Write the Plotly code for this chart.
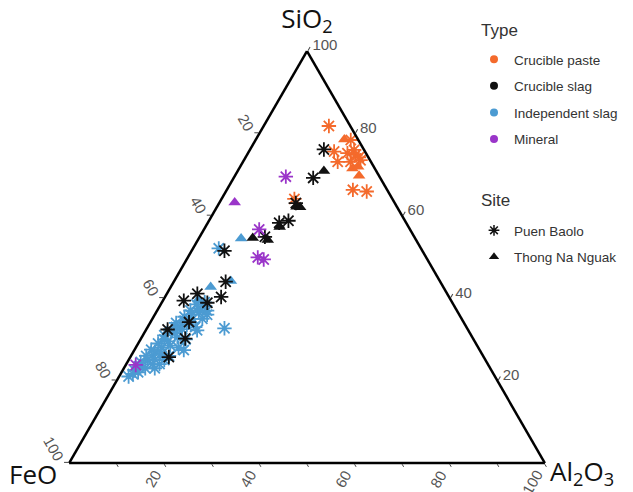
import plotly.graph_objects as go

# ---------------- data (wt%) ----------------
types = ["Crucible paste", "Crucible slag", "Independent slag", "Mineral"]
type_colors = ["#F46A2C", "#111111", "#4C9BD2", "#9A35C9"]
sites = ["Puen Baolo", "Thong Na Nguak"]
site_symbols = ["asterisk-open", "triangle-up"]

paste_sio2 = [81.8, 78.5, 78.4, 75.6, 75.2, 76.0, 74.8, 74.2, 73.1, 73.1, 73.5, 71.5, 71.9, 69.7, 66.3, 65.9, 64.1]
paste_feo = [4.5, 2.9, 1.6, 6.5, 3.9, 2.1, 2.4, 2.0, 7.0, 4.3, 2.0, 4.7, 3.3, 4.2, 7.2, 4.5, 20.6]
paste_al2o3 = [13.7, 18.6, 20.0, 17.9, 20.9, 21.9, 22.8, 23.8, 19.9, 22.6, 24.5, 23.8, 24.8, 26.1, 26.5, 29.6, 15.3]
paste_site = ["P", "T", "P", "P", "P", "P", "P", "P", "P", "P", "P", "T", "T", "T", "P", "P", "P"]

slag_sio2 = [76.1, 69.2, 70.9, 63.1, 62.2, 62.1, 58.3, 58.8, 57.3, 54.6, 54.9, 54.1, 51.5, 44.0, 41.1, 40.3, 39.4, 38.9, 32.4, 30.2, 25.7, 34.2]
slag_feo = [8.4, 14.1, 11.0, 20.8, 21.1, 20.4, 26.7, 24.5, 27.1, 34.1, 31.4, 31.2, 41.6, 45.1, 52.5, 47.9, 56.2, 51.5, 63.1, 60.5, 66.2, 57.7]
slag_al2o3 = [15.5, 16.7, 18.1, 16.1, 16.7, 17.5, 15.0, 16.7, 15.6, 11.3, 13.7, 14.7, 6.9, 10.9, 6.4, 11.8, 4.4, 9.6, 4.5, 9.3, 8.1, 8.1]
slag_site = ["P", "P", "T", "P", "T", "T", "P", "P", "T", "T", "P", "T", "P", "P", "P", "P", "P", "P", "P", "P", "P", "P"]

indep_sio2 = [54.5, 44.2, 42.7, 39.7,
              52.1, 32.7, 27.4, 32.2, 21.6,
              21.0, 22.0, 22.5, 23.0, 23.5, 24.0, 24.5, 25.0, 25.5, 26.0, 26.5, 27.0, 27.5, 28.0, 28.5,
              29.0, 29.5, 30.0, 30.5, 31.0, 31.5, 32.0, 32.5, 33.0, 33.5, 34.0, 34.5, 35.0, 35.5, 36.0,
              36.5, 37.0, 37.5, 38.0, 38.5, 39.0, 26.0, 24.0, 28.0, 30.0, 23.0, 25.0, 33.0, 35.0, 37.0, 36.0]
indep_feo = [36.6, 43.9, 48.9, 53.0,
             42.5, 51.0, 62.2, 57.0, 75.8,
             77.0, 74.5, 75.0, 72.5, 73.5, 70.5, 72.7, 71.0, 69.5, 70.8, 67.5, 68.5, 69.0, 66.5, 64.5,
             66.8, 64.5, 65.0, 62.0, 64.5, 62.0, 62.5, 60.0, 61.0, 58.5, 60.5, 58.5, 56.5, 58.0, 56.5,
             54.5, 56.0, 54.0, 52.5, 54.0, 52.0, 66.0, 69.0, 63.0, 60.5, 70.5, 67.5, 57.0, 54.5, 52.5, 53.0]
indep_al2o3 = [8.9, 11.9, 8.4, 7.3,
               5.4, 16.3, 10.4, 10.8, 2.6,
               2.0, 3.5, 2.5, 4.5, 3.0, 5.5, 2.8, 4.0, 5.0, 3.2, 6.0, 4.5, 3.5, 5.5, 7.0,
               4.2, 6.0, 5.0, 7.5, 4.5, 6.5, 5.5, 7.5, 6.0, 8.0, 5.5, 7.0, 8.5, 6.5, 7.5,
               9.0, 7.0, 8.5, 9.5, 7.5, 9.0, 8.0, 7.0, 9.0, 9.5, 6.5, 7.5, 10.0, 10.5, 10.5, 11.0]
indep_site = ["T", "T", "T", "T"] + ["P"] * 51

mineral_sio2 = [69.5, 63.2, 56.7, 49.9, 49.4, 23.8]
mineral_feo = [19.7, 33.6, 31.7, 35.4, 34.4, 74.1]
mineral_al2o3 = [10.8, 3.2, 11.6, 14.7, 16.2, 2.1]
mineral_site = ["P", "T", "P", "P", "P", "P"]

tick_vals = [0, 20, 40, 60, 80]
tick_text = ["100", "80", "60", "40", "20"]
al2o3_tick_vals = [20, 40, 60, 80, 100]
al2o3_tick_text = ["20", "40", "60", "80", "100"]

# ---------------- figure ----------------
fig = go.Figure()

groups = {
    "Independent slag": (indep_sio2, indep_feo, indep_al2o3, indep_site),
    "Crucible paste": (paste_sio2, paste_feo, paste_al2o3, paste_site),
    "Crucible slag": (slag_sio2, slag_feo, slag_al2o3, slag_site),
    "Mineral": (mineral_sio2, mineral_feo, mineral_al2o3, mineral_site),
}

for tname, (sa, fe, al, st) in groups.items():
    col = type_colors[types.index(tname)]
    for code, sym in (("P", "asterisk-open"), ("T", "triangle-up")):
        idx = [i for i, s in enumerate(st) if s == code]
        if not idx:
            continue
        if sym == "asterisk-open":
            marker = dict(symbol=sym, size=12, color=col, line=dict(color=col, width=1.8))
        else:
            marker = dict(symbol=sym, size=11, color=col, line=dict(width=0))
        fig.add_trace(go.Scatterternary(
            a=[sa[i] for i in idx], b=[fe[i] for i in idx], c=[al[i] for i in idx],
            mode="markers", marker=marker, showlegend=False, name=f"{tname} / {code}",
        ))

# legend-only entries
for i, (tname, col) in enumerate(zip(types, type_colors)):
    fig.add_trace(go.Scatterternary(
        a=[None], b=[None], c=[None], mode="markers", name=tname,
        marker=dict(symbol="circle", size=8, color=col),
        legend="legend", legendgroup=f"type{i}", showlegend=True,
    ))
for i, (sname, sym) in enumerate(zip(sites, site_symbols)):
    if sym == "asterisk-open":
        mk = dict(symbol=sym, size=9, color="#111", line=dict(color="#111", width=1.5))
    else:
        mk = dict(symbol=sym, size=9, color="#111")
    fig.add_trace(go.Scatterternary(
        a=[None], b=[None], c=[None], mode="markers", name=sname,
        marker=mk, legend="legend2", legendgroup=f"site{i}", showlegend=True,
    ))

tick_font = dict(family="Liberation Sans, Arial", size=15, color="#555")
axis_common = dict(
    tickmode="array", tickvals=tick_vals, ticktext=tick_text,
    ticks="outside", ticklen=4, tickcolor="#444", tickwidth=1,
    tickfont=tick_font,
    showline=True, linecolor="black", linewidth=2.5,
    showgrid=False, min=0,
)
title_font = dict(family="Open Sans", size=26, color="#111")
legend_font = dict(family="Liberation Sans, Arial", size=13.5, color="#333")
head_font = dict(family="Liberation Sans, Arial", size=17, color="#333")

# bottom (Al2O3) edge: ticks every 10, labels drawn as rotated annotations
baxis_opts = dict(
    tickmode="array", tickvals=list(range(0, 100, 10)), ticks="outside", ticklen=3,
    tickcolor="#444", tickwidth=1, showticklabels=False,
    showline=True, linecolor="black", linewidth=2.5, showgrid=False, min=0,
)

dom_x = [69 / 633, 545 / 633]
dom_y = [29 / 492, 441 / 492]

annotations = [
    dict(text="FeO", x=33 / 633, y=1 - 474 / 492, xref="paper", yref="paper",
         showarrow=False, font=title_font, xanchor="center", yanchor="middle"),
    dict(text="Al<sub>2</sub>O<sub>3</sub>", x=582 / 633, y=1 - 472 / 492, xref="paper", yref="paper",
         showarrow=False, font=title_font, xanchor="center", yanchor="middle"),
    dict(text="Type", x=479 / 633, y=1 - 30 / 492, xref="paper", yref="paper",
         showarrow=False, font=head_font, xanchor="left", yanchor="middle"),
    dict(text="Site", x=479 / 633, y=1 - 200 / 492, xref="paper", yref="paper",
         showarrow=False, font=head_font, xanchor="left", yanchor="middle"),
]
for v, t in zip(al2o3_tick_vals, al2o3_tick_text):
    annotations.append(dict(
        text=t, x=dom_x[0] + (dom_x[1] - dom_x[0]) * v / 100 + 2 / 633, y=dom_y[0] - 3 / 492,
        xref="paper", yref="paper", showarrow=False, textangle=-60,
        xanchor="right", yanchor="top", borderpad=0, font=tick_font,
    ))

fig.update_layout(
    width=633, height=492,
    margin=dict(l=0, r=0, t=0, b=0, autoexpand=False),
    paper_bgcolor="white",
    ternary=dict(
        sum=100,
        bgcolor="white",
        domain=dict(x=dom_x, y=dom_y),
        aaxis=dict(title=dict(text="SiO<sub>2</sub>", font=title_font), tickangle=60, **axis_common),
        baxis=dict(title=dict(text=""), **baxis_opts),
        caxis=dict(title=dict(text=""), tickangle=0, **axis_common),
    ),
    legend=dict(
        x=474 / 633, y=1 - 44 / 492, xanchor="left", yanchor="top",
        font=legend_font, tracegroupgap=6, bgcolor="rgba(0,0,0,0)",
    ),
    legend2=dict(
        x=474 / 633, y=1 - 215 / 492, xanchor="left", yanchor="top",
        font=legend_font, tracegroupgap=6, bgcolor="rgba(0,0,0,0)",
    ),
    annotations=annotations,
)

fig.write_html("out.html", config={"displayModeBar": False},
               post_script="document.body.style.margin='0px';")
